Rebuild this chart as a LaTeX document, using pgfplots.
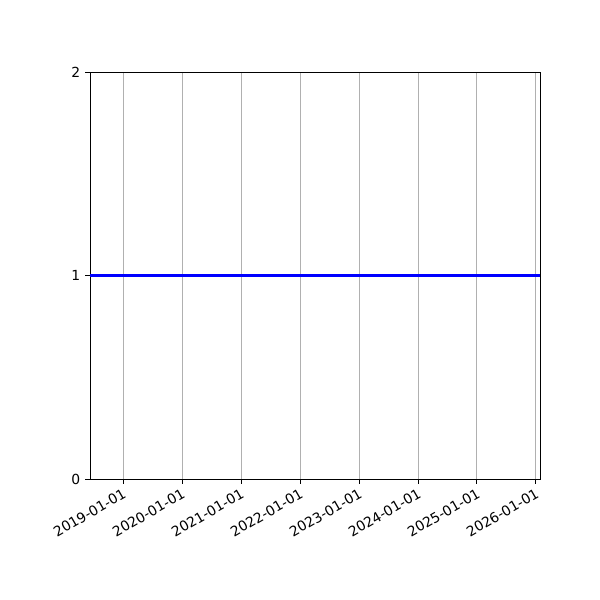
\documentclass[border=0pt]{standalone}
\usepackage{fontspec}
\setmainfont{DejaVu Sans}
\usepackage{pgfplots}
\pgfplotsset{compat=1.18}

\begin{document}
\begin{tikzpicture}
  \begin{axis}[
    scale only axis,
    width=324pt,
    height=293.04pt,
    xmin=2018.44, xmax=2026.07,
    ymin=0, ymax=2,
    xtick={2019,2020,2021,2022,2023,2024,2025,2026},
    xticklabels={2019-01-01,2020-01-01,2021-01-01,2022-01-01,2023-01-01,2024-01-01,2025-01-01,2026-01-01},
    ytick={0,1,2},
    xticklabel style={rotate=30, anchor=north east, inner sep=2pt, font=\fontsize{10}{12}\selectfont},
    yticklabel style={font=\fontsize{10}{12}\selectfont},
    /pgf/number format/assume math mode=true,
    tick align=outside,
    xtick pos=bottom, ytick pos=left,
    major tick length=3.5pt,
    every tick/.style={black, line width=0.6pt},
    axis line style={line width=0.6pt},
    xmajorgrids=true,
    grid style={color=black!31, line width=0.6pt},
  ]
    \addplot[color=blue, line width=1.5pt, mark=none] table[x=t, y=v]{
      t        v
      2018.44  1
      2020.00  1
      2022.00  1
      2024.00  1
      2026.07  1
    };
  \end{axis}
  \path (current axis.south west) ++(-64.8pt,-87.12pt) rectangle ++(432pt,432pt);
\end{tikzpicture}
\end{document}
